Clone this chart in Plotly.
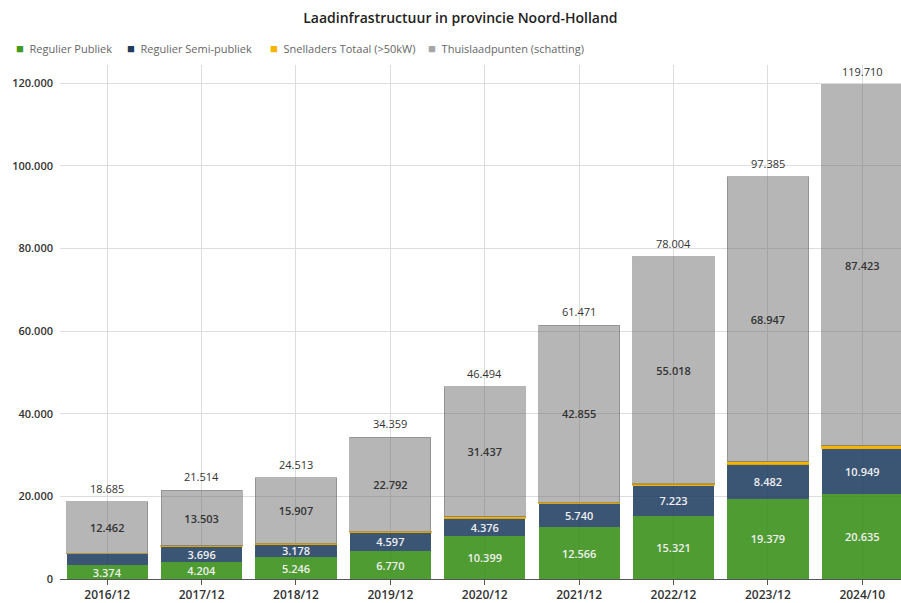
import plotly.graph_objects as go

# Laadpunten in Noord-Holland per peildatum
periodes = ["2016/12", "2017/12", "2018/12", "2019/12", "2020/12",
            "2021/12", "2022/12", "2023/12", "2024/10"]
regulier_publiek = [3374, 4204, 5246, 6770, 10399, 12566, 15321, 19379, 20635]
regulier_semi_publiek = [2771, 3696, 3178, 4597, 4376, 5740, 7223, 8482, 10949]
snelladers_totaal = [78, 111, 182, 200, 282, 310, 442, 577, 703]
thuislaadpunten = [12462, 13503, 15907, 22792, 31437, 42855, 55018, 68947, 87423]

reeksen = ["Regulier Publiek", "Regulier Semi-publiek",
           "Snelladers Totaal (>50kW)", "Thuislaadpunten (schatting)"]
kleuren = ["rgba(50,140,18,0.86)", "rgba(22,52,90,0.84)", "#f5b400", "rgba(110,110,110,0.5)"]

totalen = [a + b + c + d for a, b, c, d in zip(regulier_publiek, regulier_semi_publiek,
                                                snelladers_totaal, thuislaadpunten)]

FONT = "Open Sans, Lato, sans-serif"
W, H = 901, 603
M_L, M_R, M_T, M_B = 60, 0, 65, 22
label_font_light = dict(family=FONT, size=11, color="#f0f0f0", weight=600)
label_font_dark = dict(family=FONT, size=11, color="#333333", weight=600)


def nl(n):
    return f"{n:,}".replace(",", ".")


def paper_xy(px, py):
    """pixel position in the page -> paper coordinates of the plot area"""
    return ((px - M_L) / (W - M_L - M_R), (H - M_B - py) / (H - M_T - M_B))


fig = go.Figure()

fig.add_trace(go.Bar(
    name=reeksen[0], x=periodes, y=regulier_publiek,
    marker=dict(color=kleuren[0], line=dict(width=0)),
    texttemplate="%{y:,}", textposition="inside", insidetextanchor="middle",
    textfont=label_font_light, hoverinfo="y+name",
))
# smallest semi-publiek segment has no room for its label
semi_templates = ["" if i == 0 else "%{y:,}" for i in range(len(periodes))]
fig.add_trace(go.Bar(
    name=reeksen[1], x=periodes, y=regulier_semi_publiek,
    marker=dict(color=kleuren[1], line=dict(width=0)),
    texttemplate=semi_templates, textposition="inside", insidetextanchor="middle",
    textfont=label_font_light, hoverinfo="y+name",
))
fig.add_trace(go.Bar(
    name=reeksen[2], x=periodes, y=snelladers_totaal,
    marker=dict(color=kleuren[2], line=dict(width=1.2, color="rgba(245,180,0,0.85)")),
    textposition="none", hoverinfo="y+name",
))
fig.add_trace(go.Bar(
    name=reeksen[3], x=periodes, y=thuislaadpunten,
    marker=dict(color=kleuren[3], line=dict(width=1, color="rgba(120,120,120,0.55)")),
    texttemplate="%{y:,}", textposition="inside", insidetextanchor="middle",
    textfont=label_font_dark, hoverinfo="y+name",
))

annotations = []
# totaal boven elke stapel
for p, t in zip(periodes, totalen):
    annotations.append(dict(
        x=p, y=t, xref="x", yref="y", text=nl(t), showarrow=False,
        yanchor="bottom", yshift=4,
        font=dict(family=FONT, size=11, color="#333333"),
    ))

# legenda met kleine vierkante symbolen
legend_x = [14, 125, 268, 426]
legend_kleuren = ["#3f9a1f", "#233c5c", "#f5b400", "#a6a6a6"]
for xpos, naam, kleur in zip(legend_x, reeksen, legend_kleuren):
    lx, ly = paper_xy(xpos, 48)
    annotations.append(dict(
        x=lx, y=ly, xref="paper", yref="paper",
        xanchor="left", yanchor="middle", showarrow=False,
        text=f"<span style='color:{kleur};font-size:13px'>■</span>  {naam}",
        font=dict(family=FONT, size=11, color="#666666"),
    ))

fig.update_layout(
    width=W, height=H,
    margin=dict(l=M_L, r=M_R, t=M_T, b=M_B),
    paper_bgcolor="white", plot_bgcolor="white",
    barmode="stack", bargap=0.14,
    separators=",.",
    uniformtext=dict(minsize=11, mode="show"),
    font=dict(family=FONT, color="#333333"),
    showlegend=False,
    title=dict(
        text="Laadinfrastructuur in provincie Noord-Holland",
        x=0.511, xref="container", xanchor="center",
        y=1 - 18 / H, yref="container", yanchor="middle",
        font=dict(family=FONT, size=14, color="#222222", weight=600),
    ),
    annotations=annotations,
    xaxis=dict(
        type="category",
        range=[-0.5, 8.41],
        showgrid=True, gridcolor="#dddddd", gridwidth=1,
        showline=True, linecolor="#555555", linewidth=1,
        ticks="outside", ticklen=5, tickcolor="#555555",
        tickfont=dict(family=FONT, size=12, color="#333333", weight=600),
        fixedrange=True,
    ),
    yaxis=dict(
        range=[0, 124450],
        tickvals=[0, 20000, 40000, 60000, 80000, 100000, 120000],
        tickformat=",",
        showgrid=True, gridcolor="#dddddd", gridwidth=1,
        zeroline=False,
        showline=False,
        ticks="",
        ticklabelstandoff=6,
        tickfont=dict(family=FONT, size=11, color="#333333", weight=600),
        fixedrange=True,
    ),
)

fig.write_html("out.html")
